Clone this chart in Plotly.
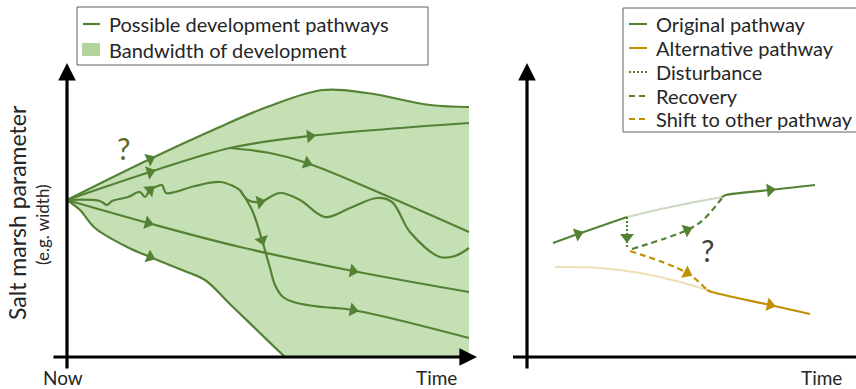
import math
import plotly.graph_objects as go

W, H = 856, 389

GREEN = "#548235"
FILL = "#c5e0b4"
LEG_FILL = "#b3d59c"
GOLD = "#bf9000"
FADE_GREEN = "#cbd9c0"
FADE_GOLD = "#eedfb6"
TEXT = "#262626"
FONT = "Lato"

# ---------------- Left panel data (time, parameter) ----------------
upper_t = [0, 83, 146, 200, 256, 300, 363, 402]
upper_v = [157, 198, 227, 250, 267, 264, 252, 250]
upper_arrows = [1]

path2_t = [0, 83, 163, 243, 402]
path2_v = [157, 185, 209, 221, 234]
path2_arrows = [1, 3]

branch2_t = [163, 203, 240, 313, 402]
branch2_v = [209, 204, 194, 164, 125]
branch2_arrows = [2]

wavy_t = [0, 33, 40, 45, 61, 73, 78, 83, 91, 95, 99, 108, 128, 153, 166, 173]
wavy_v = [157, 156, 152, 156, 160, 165, 160, 167, 171, 172, 164, 165, 171, 175, 171, 167]
wavy_arrows = [7]

wavyA_t = [173, 181, 193, 213, 233, 258, 283, 310, 325, 343, 373, 388, 402]
wavyA_v = [167, 157, 155, 164, 157, 140, 149, 159, 155, 125, 100, 101, 109]
wavyA_arrows = [2]

wavyB_t = [173, 185, 195, 203, 208, 216, 230, 256, 286, 402]
wavyB_v = [167, 147, 117, 89, 72, 60, 54, 50, 47, 19]
wavyB_arrows = [2, 8]

path4_t = [0, 81, 173, 286, 402]
path4_v = [157, 134, 110, 86, 65]
path4_arrows = [1, 3]

lower_t = [0, 13, 28, 60, 83, 120, 138, 166, 218]
lower_v = [157, 147, 129, 110, 100, 85, 77, 50, 0]
lower_arrows = [4]

# ---------------- Right panel data (time, parameter) ----------------
orig1_t = [26, 51, 100]
orig1_v = [114, 123, 140]
orig1_arrows = [1]

origfade_t = [100, 148, 195]
origfade_v = [140, 151, 160]

orig2_t = [195, 199, 243, 288]
orig2_v = [160, 162, 167, 172]
orig2_arrows = [2]

dist_t = [100, 100, 100]
dist_v = [140, 120, 108]
dist_arrows = [1]

recov_t = [105, 160, 176, 195]
recov_v = [108, 127, 137, 159]
recov_arrows = [1]

shift_t = [103, 160, 180]
shift_v = [106, 84, 67]
shift_arrows = [1]

altfade_t = [28, 73, 113, 153, 180]
altfade_v = [90, 89, 84, 75, 67]

alt_t = [180, 185, 243, 283]
alt_v = [67, 65, 52, 43]
alt_arrows = [2]

fig = go.Figure()


def line(t, v, color, width=2.2, dash="solid", axis="1", shape="spline"):
    xa, ya = ("x", "y") if axis == "1" else ("x2", "y2")
    fig.add_trace(go.Scatter(
        x=t, y=v, mode="lines", xaxis=xa, yaxis=ya,
        line=dict(color=color, width=width, dash=dash, shape=shape, smoothing=1),
        hoverinfo="skip", showlegend=False))


def arrows(t, v, idx, color, size=12, axis="1"):
    xa, ya = ("x", "y") if axis == "1" else ("x2", "y2")
    xs, ys, angs = [], [], []
    for i in idx:
        i0 = max(i - 1, 0)
        i1 = min(i + 1, len(t) - 1)
        dx = t[i1] - t[i0]
        dy = -(v[i1] - v[i0])  # screen direction (y down)
        angs.append(math.degrees(math.atan2(dy, dx)))
        xs.append(t[i])
        ys.append(v[i])
    fig.add_trace(go.Scatter(
        x=xs, y=ys, mode="markers", xaxis=xa, yaxis=ya,
        marker=dict(symbol="triangle-right", size=size, color=color,
                    angle=angs, line=dict(width=0)),
        hoverinfo="skip", showlegend=False))


# band fill: lower boundary extended along the time axis, then upper boundary
band_low_t = lower_t + [224, 402]
band_low_v = lower_v + [0, 0]
fig.add_trace(go.Scatter(x=band_low_t, y=band_low_v, mode="lines",
                         line=dict(width=0, shape="spline", smoothing=1),
                         hoverinfo="skip", showlegend=False))
fig.add_trace(go.Scatter(x=upper_t, y=upper_v, mode="lines", fill="tonexty",
                         fillcolor=FILL,
                         line=dict(width=0, shape="spline", smoothing=1),
                         hoverinfo="skip", showlegend=False))

for (t, v) in [(upper_t, upper_v), (path2_t, path2_v), (branch2_t, branch2_v),
               (wavy_t, wavy_v), (wavyA_t, wavyA_v), (wavyB_t, wavyB_v),
               (path4_t, path4_v), (lower_t, lower_v)]:
    line(t, v, GREEN)

for (t, v, a) in [(upper_t, upper_v, upper_arrows), (path2_t, path2_v, path2_arrows),
                  (branch2_t, branch2_v, branch2_arrows), (wavy_t, wavy_v, wavy_arrows),
                  (wavyA_t, wavyA_v, wavyA_arrows), (wavyB_t, wavyB_v, wavyB_arrows),
                  (path4_t, path4_v, path4_arrows), (lower_t, lower_v, lower_arrows)]:
    arrows(t, v, a, GREEN)

# right panel
line(origfade_t, origfade_v, FADE_GREEN, width=2, axis="2")
line(altfade_t, altfade_v, FADE_GOLD, width=2, axis="2")
line(orig1_t, orig1_v, GREEN, axis="2")
line(orig2_t, orig2_v, GREEN, axis="2")
line(dist_t, dist_v, GREEN, dash="2px,2px", axis="2", shape="linear")
line(recov_t, recov_v, GREEN, dash="6px,4px", axis="2")
line(shift_t, shift_v, GOLD, dash="6px,4px", axis="2")
line(alt_t, alt_v, GOLD, axis="2")
arrows(orig1_t, orig1_v, orig1_arrows, GREEN, axis="2")
arrows(orig2_t, orig2_v, orig2_arrows, GREEN, axis="2")
arrows(dist_t, dist_v, dist_arrows, GREEN, axis="2")
arrows(recov_t, recov_v, recov_arrows, GREEN, axis="2")
arrows(shift_t, shift_v, shift_arrows, GOLD, axis="2")
arrows(alt_t, alt_v, alt_arrows, GOLD, axis="2")


def px(x):
    return x / W


def py(y):
    return 1 - y / H


annotations = []
shapes = []

# axes with arrowheads
for xr, yr, ax, ay, x, y in [("x", "y", 0, -13, 0, 294), ("x", "y", -15, 0, 410, 0),
                             ("x2", "y2", 0, -13, 0, 294)]:
    annotations.append(dict(x=x, y=y, ax=ax, ay=ay, xref=xr, yref=yr, axref=xr, ayref=yr,
                            text="", showarrow=True, arrowhead=2, arrowsize=1.1,
                            arrowwidth=3.2, arrowcolor="black"))
shapes.append(dict(type="line", xref="x2", yref="y2", x0=-14, x1=335, y0=0, y1=0,
                   line=dict(color="black", width=3.2)))


def text(s, x, y, size, color=TEXT, xanchor="center", angle=0):
    annotations.append(dict(text=s, x=px(x), y=py(y), xref="paper", yref="paper",
                            showarrow=False, xanchor=xanchor, yanchor="middle",
                            textangle=angle, font=dict(family=FONT, size=size, color=color)))


text("Salt marsh parameter", 17, 213, 23, angle=-90)
text("(e.g. width)", 42, 225, 17, angle=-90)
text("Now", 63, 377, 19)
text("Time", 437, 377, 19)
text("Time", 821, 377, 19)
text("?", 123, 148, 30, color="#5b6a2a")
text("?", 707, 250, 30, color="#404040")

# left legend
shapes.append(dict(type="rect", xref="paper", yref="paper", x0=px(77), x1=px(428),
                   y0=py(65), y1=py(7), line=dict(color="#606060", width=1)))
shapes.append(dict(type="line", xref="paper", yref="paper", x0=px(83), x1=px(100),
                   y0=py(24), y1=py(24), line=dict(color=GREEN, width=2.2)))
shapes.append(dict(type="rect", xref="paper", yref="paper", x0=px(82), x1=px(100),
                   y0=py(56), y1=py(43), line=dict(width=0), fillcolor=LEG_FILL))
text("Possible development pathways", 107, 24, 20, xanchor="left")
text("Bandwidth of development", 107, 50, 20, xanchor="left")

# right legend
shapes.append(dict(type="rect", xref="paper", yref="paper", x0=px(623), x1=px(870),
                   y0=py(132), y1=py(8), line=dict(color="#606060", width=1)))
leg_items = [("Original pathway", GREEN, "solid"), ("Alternative pathway", GOLD, "solid"),
             ("Disturbance", GREEN, "2px,2px"), ("Recovery", GREEN, "6px,4px"),
             ("Shift to other pathway", GOLD, "6px,4px")]
leg_y = [24, 48, 72, 96, 119]
for (name, col, dash), yy in zip(leg_items, leg_y):
    shapes.append(dict(type="line", xref="paper", yref="paper", x0=px(629), x1=px(647),
                       y0=py(yy), y1=py(yy), line=dict(color=col, width=2, dash=dash)))
    text(name, 654, yy, 20, xanchor="left")

fig.update_layout(
    width=W, height=H, margin=dict(l=0, r=0, t=0, b=0),
    paper_bgcolor="white", plot_bgcolor="white",
    xaxis=dict(domain=[0, 490 / W], range=[-67, 423], visible=False, fixedrange=True),
    yaxis=dict(domain=[0, 1], range=[-32, 357], visible=False, fixedrange=True),
    xaxis2=dict(domain=[490 / W, 1], range=[-37, 329], visible=False, fixedrange=True),
    yaxis2=dict(domain=[0, 1], range=[-32, 357], visible=False, anchor="x2", fixedrange=True),
    annotations=annotations, shapes=shapes, showlegend=False,
)

fig.write_html("out.html", config={"displayModeBar": False},
               post_script="document.body.style.margin='0';"
                           "document.body.style.overflow='hidden';")
